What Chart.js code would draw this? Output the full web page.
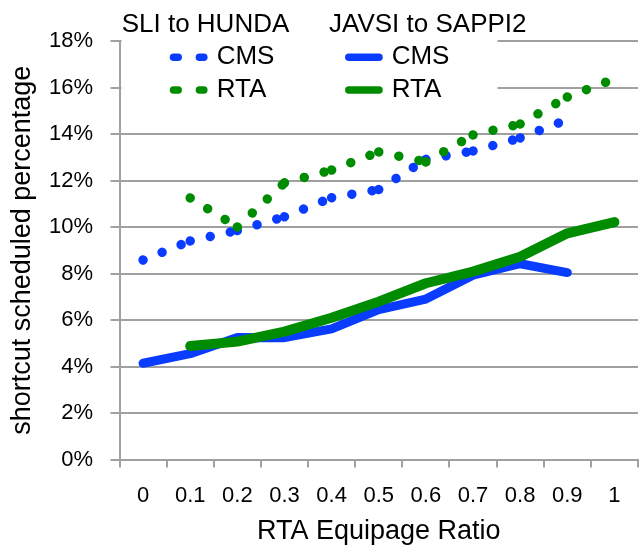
<!DOCTYPE html>
<html>
<head>
<meta charset="utf-8">
<script src="https://cdn.jsdelivr.net/npm/chart.js@4"></script>
<style>
  html, body { margin: 0; padding: 0; background: #fff; }
  #wrap { position: relative; width: 639px; height: 548px; }
  #c { position: absolute; left: 0; top: 0; }
  #legend { position: absolute; left: 0; top: 0; pointer-events: none; }
  #legend text { font-family: "Liberation Sans", Arial, sans-serif; font-size: 26px; fill: #000; }
</style>
</head>
<body>
<div id="wrap">
  <canvas id="c" width="639" height="548"></canvas>
  <svg id="legend" width="639" height="548">
    <rect x="121.5" y="0" width="376" height="108" fill="#fff"></rect>
    <text x="121.7" y="31.5">SLI to HUNDA</text>
    <text x="329" y="31.5">JAVSI to SAPPI2</text>
    <line id="lgBlueDash1" x1="173.5" y1="57.3" x2="178.2" y2="57.3" stroke-width="7.5" stroke-linecap="round"></line>
    <line id="lgBlueDash2" x1="199.4" y1="57.3" x2="203.8" y2="57.3" stroke-width="7.5" stroke-linecap="round"></line>
    <text x="216.7" y="64">CMS</text>
    <line id="lgBlueSolid" x1="348.8" y1="57.3" x2="379" y2="57.3" stroke-width="7.5" stroke-linecap="round"></line>
    <text x="391.7" y="64">CMS</text>
    <line id="lgGreenDash1" x1="173.5" y1="90" x2="178.2" y2="90" stroke-width="7.5" stroke-linecap="round"></line>
    <line id="lgGreenDash2" x1="199.4" y1="90" x2="203.8" y2="90" stroke-width="7.5" stroke-linecap="round"></line>
    <text x="216.7" y="96.7">RTA</text>
    <line id="lgGreenSolid" x1="348.8" y1="90" x2="379" y2="90" stroke-width="7.5" stroke-linecap="round"></line>
    <text x="391.7" y="96.7">RTA</text>
  </svg>
</div>
<script>
// ---- data ----
const categories = ['0', '0.1', '0.2', '0.3', '0.4', '0.5', '0.6', '0.7', '0.8', '0.9', '1'];
// SLI to HUNDA (dotted)
const sliCMS = [8.58, 9.40, 9.85, 10.44, 11.26, 11.61, 12.91, 13.27, 13.83, 14.62, null];
const sliRTA = [null, 11.25, 10.0, 11.9, 12.45, 13.23, 12.8, 13.96, 14.43, 15.59, 16.37];
// JAVSI to SAPPI2 (solid)
const javCMS = [4.14, 4.55, 5.25, 5.24, 5.62, 6.45, 6.9, 7.93, 8.42, 8.04, null];
const javRTA = [null, 4.88, 5.07, 5.5, 6.1, 6.79, 7.58, 8.08, 8.72, 9.73, 10.21];
const yTickValues = [0, 2, 4, 6, 8, 10, 12, 14, 16, 18];

const BLUE = '#0a3cff';
const GREEN = '#008c00';
const FONT = '"Liberation Sans", Arial, sans-serif';

// legend sample colours
['lgBlueDash1', 'lgBlueDash2', 'lgBlueSolid'].forEach(id => document.getElementById(id).setAttribute('stroke', BLUE));
['lgGreenDash1', 'lgGreenDash2', 'lgGreenSolid'].forEach(id => document.getElementById(id).setAttribute('stroke', GREEN));

function dotted(label, data, color) {
  return {
    label, data,
    borderColor: color, backgroundColor: color,
    borderWidth: 9.5,
    borderDash: [0.01, 20.5],
    borderCapStyle: 'round',
    pointRadius: 0, pointHoverRadius: 0,
    tension: 0, fill: false,
    // restart the dot pattern at each data point (as the original does)
    segment: { borderDashOffset: c => (c.p0DataIndex % 2 ? 0.001 : 0) }
  };
}
function solid(label, data, color, w) {
  return {
    label, data,
    borderColor: color, backgroundColor: color,
    borderWidth: w,
    borderCapStyle: 'round', borderJoinStyle: 'round',
    pointRadius: 0, pointHoverRadius: 0,
    tension: 0, fill: false
  };
}

Chart.defaults.font.family = FONT;
Chart.defaults.color = '#000';

new Chart(document.getElementById('c'), {
  type: 'line',
  data: {
    labels: categories,
    datasets: [
      dotted('SLI to HUNDA RTA', sliRTA, GREEN),
      solid('JAVSI to SAPPI2 RTA', javRTA, GREEN, 10),
      dotted('SLI to HUNDA CMS', sliCMS, BLUE),
      solid('JAVSI to SAPPI2 CMS', javCMS, BLUE, 9)
    ]
  },
  options: {
    responsive: false,
    animation: false,
    devicePixelRatio: 1,
    layout: { padding: { left: 0, right: 1, top: 41, bottom: 0 } },
    plugins: { legend: { display: false }, tooltip: { enabled: false } },
    scales: {
      x: {
        type: 'category',
        offset: true,
        grid: { offset: true, drawOnChartArea: false, drawTicks: true, tickLength: 8, color: '#a0a0a0', lineWidth: 2 },
        border: { color: '#a0a0a0', width: 2 },
        ticks: { font: { size: 22 }, color: '#000', padding: 15, maxRotation: 0, autoSkip: false },
        title: { display: true, text: 'RTA Equipage Ratio', font: { size: 27 }, color: '#000', padding: { top: 0, bottom: 0 } },
        afterFit: s => { s.height = 88.5; }
      },
      y: {
        min: 0, max: 18,
        afterBuildTicks: s => { s.ticks = yTickValues.map(v => ({ value: v })); },
        grid: { color: '#a0a0a0', lineWidth: 2, tickLength: 9 },
        border: { color: '#a0a0a0', width: 2 },
        ticks: { font: { size: 22 }, color: '#000', padding: 17.5, callback: v => v + '%' },
        title: { display: true, text: 'shortcut scheduled percentage', font: { size: 27 }, color: '#000', padding: { top: 6.3, bottom: 0 } },
        afterFit: s => { s.width = 119.5; }
      }
    }
  }
});
</script>
</body>
</html>
